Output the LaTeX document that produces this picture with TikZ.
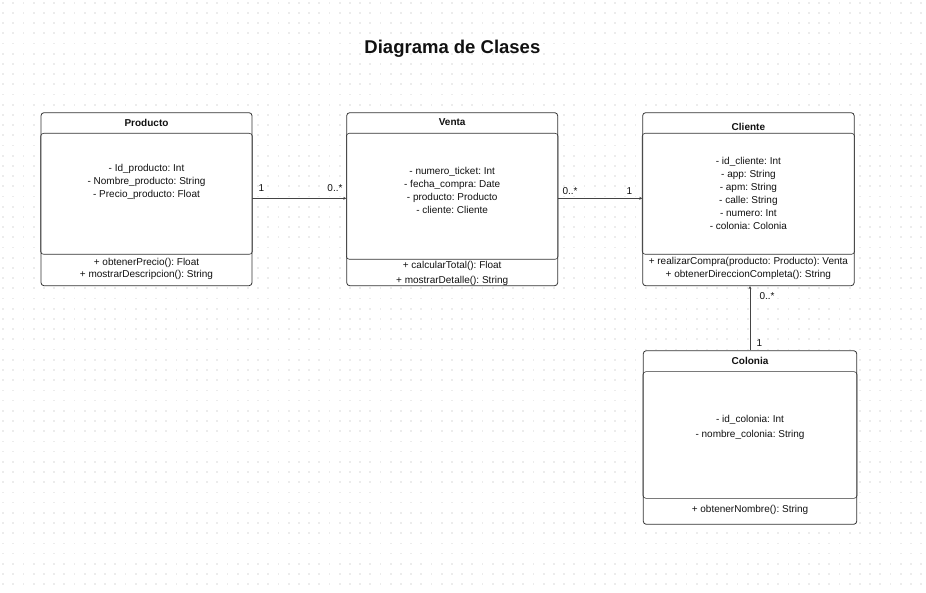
\documentclass[tikz,border=0pt]{standalone}
\usepackage{fontspec}
\setmainfont{Liberation Sans}
\frenchspacing
\usetikzlibrary{arrows.meta}
\definecolor{boxline}{HTML}{333333}
\definecolor{connc}{HTML}{444444}
\definecolor{dotc}{HTML}{ECECEC}
\definecolor{txt}{HTML}{111111}
\tikzset{
  classbox/.style={draw=boxline, fill=white, rounded corners=3pt, line width=0.8pt, inner sep=0pt},
  compart/.style={draw=boxline, rounded corners=3pt, line width=0.6pt},
  ctitle/.style={font=\bfseries\fontsize{10}{12}\selectfont, text=txt, inner sep=0pt},
  members/.style={font=\fontsize{10}{13}\selectfont, text=txt, align=center, inner sep=0pt},
  mult/.style={font=\fontsize{10}{12}\selectfont, text=txt, inner sep=0pt},
  assoc/.style={draw=connc, line width=0.7pt, -{Stealth[length=3pt,width=3pt]}},
}
\begin{document}
\begin{tikzpicture}[x=1pt,y=-1pt]
\useasboundingbox (0,0) rectangle (926,593);
\fill[white] (0,0) rectangle (926,593);
\foreach \i in {0,...,90}{
  \foreach \j in {0,...,57}{
    \fill[dotc] ({2.2+10.2*\i},{1.9+10.2*\j}) rectangle ++(1.7,1.7);
  }
}
% title
\node[font=\bfseries\fontsize{18.5}{22}\selectfont, text=txt, inner sep=0pt] (title) at (452.4,48.5) {Diagrama de Clases};

% Producto
\node[classbox, minimum width=211pt, minimum height=173pt] (producto) at (146.5,199.2) {};
\draw[compart] (producto.west |- 0,133.3) rectangle (producto.east |- 0,254.3);
\node[ctitle] (productoT) at (146.5,122.5) {Producto};
\node[members] (productoA) at (146.5,181.5) {- Id\_producto: Int\\- Nombre\_producto: String\\- Precio\_producto: Float};
\node[members, font=\fontsize{10}{12}\selectfont] (productoM) at (146.5,268.5) {+ obtenerPrecio(): Float\\+ mostrarDescripcion(): String};

% Venta
\node[classbox, minimum width=211pt, minimum height=173pt] (venta) at (452.2,199.2) {};
\draw[compart] (venta.west |- 0,133.3) rectangle (venta.east |- 0,259.3);
\node[ctitle] (ventaT) at (452.2,122.5) {Venta};
\node[members] (ventaA) at (452.2,190) {- numero\_ticket: Int\\- fecha\_compra: Date\\- producto: Producto\\- cliente: Cliente};
\node[members, font=\fontsize{10}{14.3}\selectfont] (ventaM) at (452.2,273.3) {+ calcularTotal(): Float\\+ mostrarDetalle(): String};

% Cliente
\node[classbox, minimum width=211.5pt, minimum height=173pt] (cliente) at (748.4,199.2) {};
\draw[compart] (cliente.west |- 0,133.3) rectangle (cliente.east |- 0,254.3);
\node[ctitle] (clienteT) at (748.4,126.5) {Cliente};
\node[members] (clienteA) at (748.4,193) {- id\_cliente: Int\\- app: String\\- apm: String\\- calle: String\\- numero: Int\\- colonia: Colonia};
\node[members, font=\fontsize{10}{13}\selectfont] (clienteM) at (748.4,268) {+ realizarCompra(producto: Producto): Venta\\+ obtenerDireccionCompleta(): String};

% Colonia
\node[classbox, minimum width=213.4pt, minimum height=173.6pt] (colonia) at (750,437.5) {};
\draw[compart] (colonia.west |- 0,371.7) rectangle (colonia.east |- 0,498.3);
\node[ctitle] (coloniaT) at (750,361) {Colonia};
\node[members, font=\fontsize{10}{14.3}\selectfont] (coloniaA) at (750,427.5) {- id\_colonia: Int\\- nombre\_colonia: String};
\node[members] (coloniaM) at (750,509.5) {+ obtenerNombre(): String};

% associations
\draw[assoc] (producto.east |- 0,198.3) -- (venta.west |- 0,198.3);
\draw[assoc] (venta.east |- 0,198.3) -- (cliente.west |- 0,198.3);
\draw[assoc] (colonia.north) -- (colonia.north |- cliente.south);

% multiplicities
\node[mult] (m1) at (261.5,188.5) {1};
\node[mult] (m2) at (335,188.5) {0..*};
\node[mult] (m3) at (570,191.5) {0..*};
\node[mult] (m4) at (629.5,191.5) {1};
\node[mult] (m5) at (767,296.5) {0..*};
\node[mult] (m6) at (759.5,343) {1};
\end{tikzpicture}
\end{document}
